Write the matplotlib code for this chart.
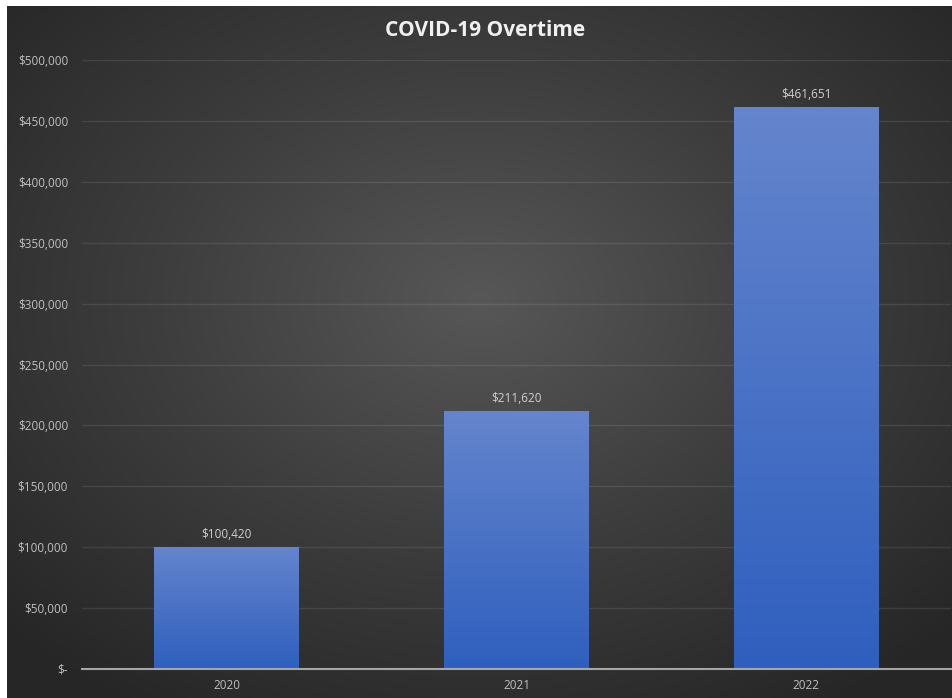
import numpy as np
import matplotlib
matplotlib.use('Agg')
import matplotlib.pyplot as plt
from matplotlib.colors import LinearSegmentedColormap

# datos del grafico
years = ['2020', '2021', '2022']
overtime = [100420, 211620, 461651]
y_ticks = [0, 50000, 100000, 150000, 200000, 250000, 300000, 350000, 400000, 450000, 500000]

def fmt_money(v):
    if v == 0:
        return '$-'
    return '${:,.0f}'.format(v)

plt.rcParams['font.family'] = ['Open Sans', 'DejaVu Sans']

fig = plt.figure(figsize=(9.52, 6.98), dpi=100)
fig.patch.set_facecolor('white')

# fondo oscuro con gradiente radial
W, H = 952, 698
bx0, by0 = 7, 0
bw, bh = W - 7, H - 6
bg_ax = fig.add_axes([bx0 / W, by0 / H, bw / W, bh / H])
gx, gy = np.meshgrid(np.linspace(-1, 1, 400), np.linspace(-1, 1, 300))
r = np.sqrt((gx * 1.0) ** 2 + ((gy + 0.15) * 1.0) ** 2) / 1.4
r = np.clip(r, 0, 1)
bg_cmap = LinearSegmentedColormap.from_list('bg', ['#575757', '#3d3d3d', '#262626'])
bg_ax.imshow(r, cmap=bg_cmap, aspect='auto', extent=[0, 1, 0, 1], vmin=0, vmax=1)
bg_ax.set_axis_off()

# ejes principales
ax_left, ax_right = 82, 951
ax_bottom, ax_top = 698 - 669, 698 - 60
ax = fig.add_axes([ax_left / W, ax_bottom / H, (ax_right - ax_left) / W, (ax_top - ax_bottom) / H])
ax.patch.set_alpha(0)

x = np.arange(len(years))
bars = ax.bar(x, overtime, width=0.5, color='#4a72c8', zorder=3)

# gradiente vertical en las barras
bar_cmap = LinearSegmentedColormap.from_list('bar', ['#2f5fbe', '#6585cd'])
grad = np.linspace(0, 1, 256).reshape(-1, 1)
for b in bars:
    bx, by = b.get_x(), b.get_y()
    bwid, bhei = b.get_width(), b.get_height()
    im = ax.imshow(grad, cmap=bar_cmap, origin='lower', aspect='auto',
                   extent=[bx, bx + bwid, by, by + bhei], zorder=4)
    im.set_clip_path(b)
    ax.text(bx + bwid / 2, bhei + 5000, fmt_money(bhei), ha='center', va='bottom',
            color='#d0d0d0', fontsize=8.5, zorder=5)

ax.set_xlim(-0.5, 2.5)
ax.set_ylim(0, 500000)
ax.set_yticks(y_ticks)
ax.set_yticklabels([fmt_money(v) for v in y_ticks])
ax.set_xticks(x)
ax.set_xticklabels(years)
ax.tick_params(axis='both', length=0, colors='#bfbfbf', labelsize=8.5)
ax.tick_params(axis='y', pad=10)
ax.tick_params(axis='x', pad=7)
ax.grid(axis='y', color='white', alpha=0.09, linewidth=1, zorder=0)
ax.set_axisbelow(True)
for s in ['top', 'right', 'left']:
    ax.spines[s].set_visible(False)
ax.spines['bottom'].set_color('#a6a6a6')
ax.spines['bottom'].set_linewidth(1.5)
ax.spines['bottom'].set_zorder(6)

fig.text(485 / W, 1 - 31 / H, 'COVID-19 Overtime', ha='center', va='center',
         color='#f0f0f0', fontsize=15, fontweight='bold')

fig.savefig('out.png', dpi=100, facecolor=fig.get_facecolor())
